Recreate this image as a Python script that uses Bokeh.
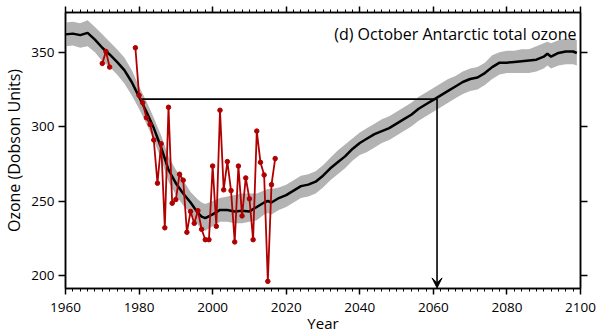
from bokeh.plotting import figure
from bokeh.models import (Range1d, LinearAxis, FixedTicker, Label, Arrow, VeeHead)
from bokeh.embed import file_html
from bokeh.resources import INLINE

# ---------------- data ----------------
model_years = [1960, 1962, 1964, 1966, 1968, 1970, 1972, 1974, 1976, 1978,
               1980, 1982, 1984, 1986, 1988, 1990, 1992, 1994, 1996, 1997,
               1998, 2000, 2002, 2004, 2006, 2008, 2010, 2012, 2014, 2015,
               2016, 2018, 2020, 2022, 2024, 2026, 2028, 2030, 2032, 2034,
               2036, 2038, 2040, 2042, 2044, 2046, 2048, 2050, 2052, 2054,
               2056, 2058, 2060, 2062, 2064, 2066, 2068, 2070, 2072, 2074,
               2076, 2078, 2080, 2082, 2084, 2086, 2088, 2090, 2091, 2092,
               2094, 2096, 2098, 2099]
model_mean = [362, 362.5, 361.5, 363, 358.5, 353, 348.5, 343.5, 338, 330,
              320, 310, 299, 286, 271, 262, 255, 249, 242, 239.5,
              238.5, 241, 244, 244, 243, 243.5, 243, 246, 249, 250,
              249, 252, 254, 257, 260, 261, 263, 267, 272, 276,
              280, 285, 289, 292, 295, 297, 299, 302, 305, 308,
              312, 315, 318, 321, 324, 327, 330, 332, 333, 336,
              340, 343, 343, 343.5, 344, 344.5, 345, 347, 349, 347,
              349.5, 350.5, 350.5, 349.5]
model_upper = [370, 370.5, 369.5, 371.5, 367, 362, 357, 352, 346.5, 338,
               327, 317, 306, 294, 280, 271, 264, 256, 251, 249,
               248, 250, 252, 253, 254, 255, 255, 255, 257, 258,
               258, 259, 261, 264, 267, 268, 270, 274, 279, 284,
               288, 292, 296, 299, 302, 305, 307, 310, 313, 316,
               320, 323, 326, 329, 332, 334, 337, 339, 340, 343,
               348, 350, 351, 351, 352, 352, 354, 356, 357, 356,
               358, 359, 359, 358]
model_lower = [354, 354.5, 353, 354, 350, 344, 340, 335, 329, 321,
               312, 302, 291, 278, 263, 254, 247, 242, 234, 231,
               230, 233, 236, 236, 235, 235, 236, 237, 241, 242,
               241, 244, 246, 249, 252, 253, 255, 259, 264, 268,
               272, 277, 281, 283, 286, 289, 291, 294, 297, 300,
               304, 307, 310, 313, 316, 319, 322, 324, 325, 328,
               332, 335, 336, 336, 336, 336, 337, 339, 341, 339,
               341, 342, 342, 341]

obs_years_early = [1970, 1971, 1972]
obs_early = [342.5, 350.5, 340]
obs_years = list(range(1979, 2018))
obs = [353, 321, 316, 306, 301.5, 291, 262, 288.5, 232, 313,
       248.5, 251, 268, 264, 229, 243, 235, 243.5, 231, 224,
       224, 273.5, 233, 311, 257.5, 276.5, 257, 222.5, 273.5, 240,
       265.5, 251.5, 224, 297, 276, 267.5, 196, 261, 278.5]

ref_year = 1980
ref_value = 318.5
return_year = 2061

x_ticks = [1960, 1980, 2000, 2020, 2040, 2060, 2080, 2100]
x_minor = list(range(1960, 2101, 2))
y_ticks = [200, 250, 300, 350]

title_text = "(d) October Antarctic total ozone"
x_label = "Year"
y_label = "Ozone (Dobson Units)"

FONT = "Open Sans"
RED = "#B00000"

# ---------------- figure ----------------
p = figure(frame_width=515, frame_height=276,
           x_range=Range1d(1960, 2100), y_range=Range1d(191.2, 376.7),
           output_backend="svg", toolbar_location=None,
           min_border_left=64, min_border_right=21,
           min_border_top=12, min_border_bottom=45,
           x_axis_location=None, y_axis_location=None)
p.xgrid.grid_line_color = None
p.ygrid.grid_line_color = None
p.outline_line_color = "black"
p.outline_line_width = 1.5
p.background_fill_color = "white"
p.border_fill_color = "white"


def make_axis(ticker, labels=True, major_out=6, minor_out=3):
    ax = LinearAxis(ticker=ticker)
    ax.axis_line_color = "black"
    ax.axis_line_width = 1.5
    ax.major_tick_line_color = "black"
    ax.major_tick_line_width = 1.5
    ax.minor_tick_line_color = "black"
    ax.minor_tick_line_width = 1
    ax.major_tick_in = 0
    ax.major_tick_out = major_out
    ax.minor_tick_in = 0
    ax.minor_tick_out = minor_out
    if labels:
        ax.major_label_text_font = FONT
        ax.major_label_text_font_size = "13.5px"
        ax.major_label_text_color = "black"
    else:
        ax.major_label_text_font_size = "0px"
        ax.major_label_text_color = None
        ax.major_label_standoff = 0
    return ax


xb = make_axis(FixedTicker(ticks=x_ticks, minor_ticks=x_minor), True, 6, 3)
xb.major_label_standoff = 8
xb.axis_label = x_label
xb.axis_label_text_font = FONT
xb.axis_label_text_font_size = "15px"
xb.axis_label_text_font_style = "normal"
xb.axis_label_text_color = "black"
xb.axis_label_standoff = -2
xt = make_axis(FixedTicker(ticks=x_ticks, minor_ticks=x_minor), False, 6, 3)
yl = make_axis(FixedTicker(ticks=y_ticks), True, 7, 0)
yl.major_label_standoff = 4
yl.axis_label = y_label
yl.axis_label_text_font = FONT
yl.axis_label_text_font_size = "16px"
yl.axis_label_text_font_style = "normal"
yl.axis_label_text_color = "black"
yl.axis_label_standoff = 3
yr = make_axis(FixedTicker(ticks=y_ticks), False, 7, 0)
p.add_layout(xb, "below")
p.add_layout(xt, "above")
p.add_layout(yl, "left")
p.add_layout(yr, "right")

# model band and mean
p.varea(x=model_years, y1=model_lower, y2=model_upper, fill_color="#b3b3b3")
p.line(model_years, model_mean, line_color="black", line_width=2.5)

# reference lines
p.line([ref_year, return_year], [ref_value, ref_value], line_color="black", line_width=1.6)
p.add_layout(Arrow(end=VeeHead(size=10, fill_color="black", line_color="black"),
                   x_start=return_year, y_start=ref_value,
                   x_end=return_year, y_end=191.6,
                   line_color="black", line_width=1.6))

# observations
p.line(obs_years_early, obs_early, line_color=RED, line_width=1.8)
p.scatter(obs_years_early, obs_early, size=4.5, color=RED)
p.line(obs_years, obs, line_color=RED, line_width=1.8)
p.scatter(obs_years, obs, size=4.5, color=RED)

# title inside the frame
p.add_layout(Label(x=2098.9, y=362.5, text=title_text, text_align="right",
                   text_baseline="alphabetic", text_font=FONT,
                   text_font_size="16px", text_color="black"))

open("out.html", "w").write(file_html(p, INLINE))
